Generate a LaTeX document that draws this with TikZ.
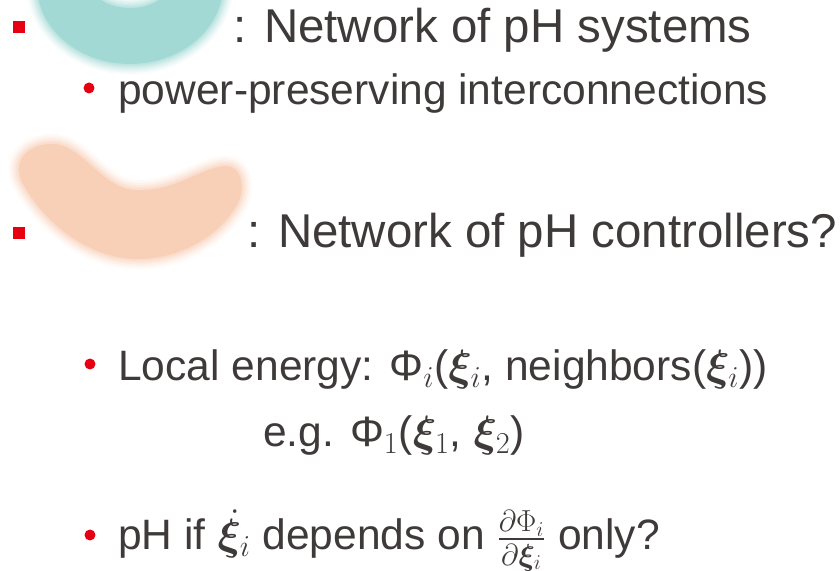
\documentclass[tikz,border=0pt]{standalone}
\usepackage{amsmath,bm}
\usepackage{fontspec}
\setmainfont{Liberation Sans}
\usetikzlibrary{calc}

\definecolor{txtgray}{HTML}{3E3A39}
\definecolor{bulletred}{HTML}{E60012}
\definecolor{blobteal}{HTML}{A3D9D5}
\definecolor{blobpeach}{HTML}{F8D0B8}

% outlines of the two blobs (pixel units, y down)
\def\peachpath{(48,144) .. controls (80,140) and (100,188) .. (135,190)
  .. controls (175,192) and (200,168) .. (225,166)
  .. controls (245,166) and (245,195) .. (235,208)
  .. controls (215,240) and (175,260) .. (135,259)
  .. controls (90,258) and (45,225) .. (22,182)
  .. controls (12,160) and (28,146) .. (48,144) -- cycle}
\def\tealpath{(130,-15) ellipse [x radius=1.86cm, y radius=1.58cm]
  (130,-15) ellipse [x radius=0.76cm, y radius=0.46cm]}

\begin{document}
\begin{tikzpicture}[x=0.02cm, y=-0.02cm,
    mainline/.style={anchor=base west, inner sep=0pt, text=txtgray,
      font=\fontsize{27}{32}\selectfont},
    subline/.style={anchor=base west, inner sep=0pt, text=txtgray,
      font=\fontsize{24.2}{29}\selectfont},
    sqbullet/.style={fill=bulletred, minimum size=0.24cm, inner sep=0pt},
    dotbullet/.style={circle, fill=bulletred, minimum size=0.22cm, inner sep=0pt}]
  \useasboundingbox (0,0) rectangle (840,571);

  % blurred blobs
  \begin{scope}
    \clip (0,0) rectangle (840,571);
    \foreach \lw/\op in {12/0.08, 10/0.1, 8/0.14, 6/0.18, 4/0.25, 2/0.35}
      \draw[blobteal, line width=\lw pt, opacity=\op] \tealpath;
    \fill[blobteal, even odd rule] \tealpath;
    \foreach \lw/\op in {12/0.08, 10/0.1, 8/0.14, 6/0.18, 4/0.25, 2/0.35}
      \draw[blobpeach, line width=\lw pt, opacity=\op, line join=round] \peachpath;
    \fill[blobpeach] \peachpath;
  \end{scope}

  % first item
  \node[sqbullet] (sq1) at (19,27) {};
  \node[mainline] (netsys) at (233,43) {: Network of pH systems};
  \node[dotbullet] (dot1) at (89,88) {};
  \node[subline] (power) at (118,105) {power-preserving interconnections};

  % second item
  \node[sqbullet] (sq2) at (19,233) {};
  \node[mainline] (netctrl) at (247,248) {: Network of pH controllers?};
  \node[dotbullet] (dot2) at (90,364) {};
  \node[subline] (local) at (118,381)
    {Local energy: Φ$_i$($\bm{\xi}_i$, neighbors($\bm{\xi}_i$))};
  \node[subline] (example) at (263,447) {e.g. Φ$_1$($\bm{\xi}_1$, $\bm{\xi}_2$)};
  \node[dotbullet] (dot3) at (90,535) {};
  \node[subline] (phif) at (118,550)
    {pH if $\dot{\bm{\xi}}_i$ depends on $\frac{\partial\Phi_i}{\partial\bm{\xi}_i}$ only?};
\end{tikzpicture}
\end{document}
